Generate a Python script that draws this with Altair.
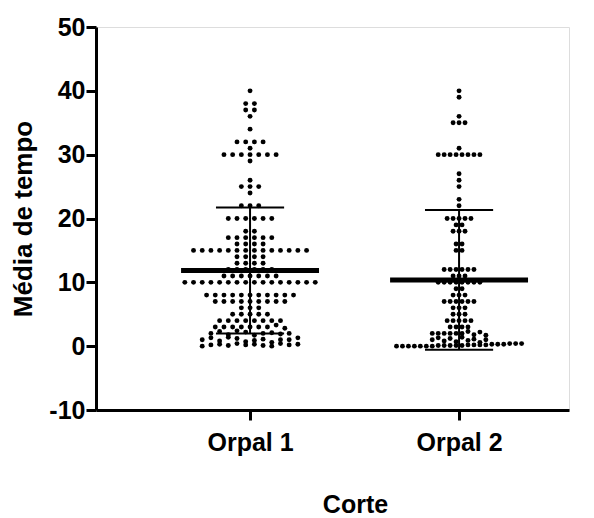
import altair as alt
import numpy as np
import pandas as pd

categories = ["Orpal 1", "Orpal 2"]

# Orpal 1 values
orpal1 = (
    [40] + [38] * 2 + [37] * 2 + [36] + [34] + [32] * 4 + [31] + [30] * 7 + [29]
    + [26] + [25] * 3 + [24] + [22] * 3 + [20] * 6 + [18] * 2 + [17] * 6 + [16] * 4
    + [15] * 14 + [14] * 4 + [13] * 4 + [12] * 6 + [11] * 7 + [10] * 16
    + [8] * 11 + [7] * 9 + [6] * 3 + [5] * 5 + [4] * 8
    + [3.0] * 7 + [3.3, 2.8]
    + [2.0, 2.3, 1.8, 2.4, 2.2, 1.7, 2.0, 2.1, 1.9, 2.0]
    + [1.0, 1.3, 0.8, 1.4, 1.2, 0.7, 0.9, 1.1, 0.6, 1.0, 1.0, 1.3]
    + [0.0, 0.2, 0.3, 0.1, 0.4, 0.2, 0.3, 0.1, 0.0, 0.4, 0.2, 0.3]
)

# Orpal 2 values
orpal2 = (
    [40, 39, 36] + [35] * 3 + [31] + [30] * 8 + [27, 26, 25, 23, 22]
    + [20] * 5 + [19] * 2 + [18] * 3 + [16] * 2 + [15] * 2
    + [12] * 6 + [11] * 3 + [10] * 8 + [9] * 2 + [8] * 3 + [7] * 6
    + [6] * 3 + [5] * 3 + [4] * 5 + [3] * 4
    + [2.0] * 6 + [2.3, 1.8, 2.2, 1.7]
    + [1.0, 1.3, 0.8, 1.2, 0.7, 1.4, 0.9, 1.1, 0.6, 1.0]
    + [0.0] * 7 + [0.1] * 5 + [0.2] * 4 + [0.3] * 3 + [0.4] * 3
)

series = [orpal1, orpal2]
dot_spacing = [0.0416, 0.0285]  # horizontal spacing of swarm dots (x units)


def swarm(values, center, spacing):
    vals = np.array(values, dtype=float)
    bins = np.floor(vals + 0.5)
    xs = np.zeros_like(vals)
    for b in np.unique(bins):
        idx = np.where(bins == b)[0]
        n = len(idx)
        offs = (np.arange(n) - (n - 1) / 2.0) * spacing
        xs[idx] = center + offs
    return xs


rows = []
stats = []
for i, (cat, vals) in enumerate(zip(categories, series)):
    center = i + 1
    xs = swarm(vals, center, dot_spacing[i])
    for x, v in zip(xs, vals):
        rows.append({"cat": cat, "x": x, "v": v})
    arr = np.array(vals, dtype=float)
    m = arr.mean()
    sd = arr.std(ddof=1)
    stats.append({"cat": cat, "c": center, "mean": m, "lo": m - sd, "hi": m + sd,
                  "ml": center - 0.33, "mr": center + 0.33,
                  "cl": center - 0.163, "cr": center + 0.163})

pts = pd.DataFrame(rows)
st = pd.DataFrame(stats)

FONT = "Liberation Sans"
xscale = alt.Scale(domain=[0.263, 2.526], nice=False, zero=False)
yscale = alt.Scale(domain=[-10, 50], nice=False, zero=False)

label_expr = "datum.value == 1 ? '%s' : '%s'" % (categories[0], categories[1])

xaxis = alt.Axis(values=[1, 2], labelExpr=label_expr, grid=False, title="Corte",
                 domainColor="black", domainWidth=3, tickColor="black", tickWidth=3,
                 tickSize=10, labelFont=FONT, labelFontSize=25, labelFontWeight="bold",
                 labelColor="black", labelPadding=10, titleFont=FONT, titleFontSize=25,
                 titleFontWeight="bold", titleColor="black",
                 titleX=259, titleY=102, titleAlign="center", titleBaseline="alphabetic")
yaxis = alt.Axis(values=list(range(-10, 51, 10)), grid=False, title="Média de tempo",
                 labelExpr="'' + datum.value",
                 domainColor="black", domainWidth=3, tickColor="black", tickWidth=3,
                 tickSize=10, labelFont=FONT, labelFontSize=25, labelFontWeight="bold",
                 labelColor="black", labelPadding=1, titleFont=FONT, titleFontSize=26,
                 titleFontWeight="bold", titleColor="black", titlePadding=12)

points = alt.Chart(pts).mark_circle(size=24, color="black", opacity=1).encode(
    x=alt.X("x:Q", scale=xscale, axis=xaxis),
    y=alt.Y("v:Q", scale=yscale, axis=yaxis),
)

base = alt.Chart(st)
mean_line = base.mark_rule(color="black", strokeWidth=5).encode(
    x=alt.X("ml:Q", scale=xscale), x2="mr:Q", y=alt.Y("mean:Q", scale=yscale))
sd_vert = base.mark_rule(color="black", strokeWidth=2).encode(
    x=alt.X("c:Q", scale=xscale), y=alt.Y("lo:Q", scale=yscale), y2="hi:Q")
cap_hi = base.mark_rule(color="black", strokeWidth=2).encode(
    x=alt.X("cl:Q", scale=xscale), x2="cr:Q", y=alt.Y("hi:Q", scale=yscale))
cap_lo = base.mark_rule(color="black", strokeWidth=2).encode(
    x=alt.X("cl:Q", scale=xscale), x2="cr:Q", y=alt.Y("lo:Q", scale=yscale))

chart = alt.layer(points, sd_vert, cap_hi, cap_lo, mean_line).properties(
    width=473, height=383,
    autosize=alt.AutoSizeParams(type="none"),
    padding={"left": 96, "top": 27, "right": 25, "bottom": 108},
).configure_view(stroke=None).configure(background="white")

chart.save("out.html", embed_options={"renderer": "svg", "actions": False})
